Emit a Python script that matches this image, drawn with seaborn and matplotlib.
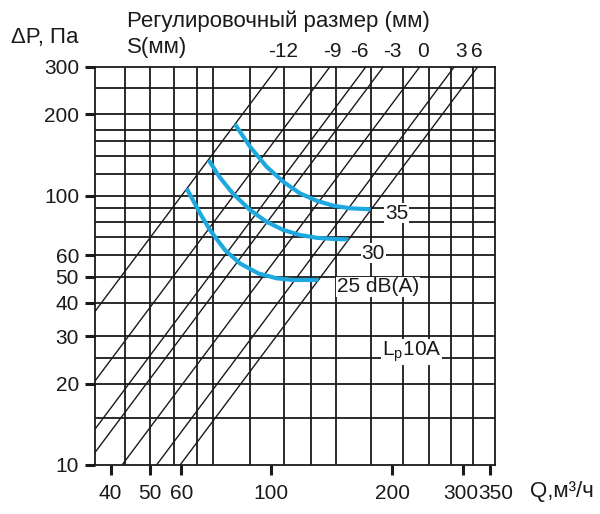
import numpy as np
import pandas as pd
import matplotlib
matplotlib.use("Agg")
import matplotlib.pyplot as plt
import matplotlib.transforms as mtransforms
import seaborn as sns

# ---- data ----
x_ticks = [40, 50, 60, 100, 200, 300, 350]
y_ticks = [10, 20, 30, 40, 50, 60, 100, 200, 300]
x_grid = [43.4, 50, 57.5, 65.5, 72, 88.9, 108, 126, 145, 177, 213, 247, 280, 318]
y_grid = [15, 20, 25, 30, 40, 50, 60, 70, 80, 90, 100, 120, 140, 160, 175, 200, 250]

# regulating size lines: flow at which each line reaches 300 Pa (P ~ Q^2)
s_labels = ["-12", "-9", "-6", "-3", "0", "3", "6"]
s_q_top = [104, 140, 172, 190, 234, 285, 326]
s_label_q = [107, 142, 166, 200, 238, 297, 325]

# noise curves (Q m3/h, dP Pa)
q_35 = [81.4, 88.8, 97.6, 107.4, 118.1, 129.9, 142.9, 157.2, 176.9]
p_35 = [184.2, 151.8, 127.9, 112.5, 101.9, 95.7, 91.7, 89.7, 88.9]
q_30 = [70.1, 74.5, 80.4, 88.8, 97.6, 107.4, 118.1, 129.9, 142.9, 155.6]
p_30 = [135.4, 117.4, 101.9, 88.4, 79.9, 74.5, 71.4, 69.7, 69.0, 68.8]
q_25 = [61.8, 66.7, 70.6, 76.9, 83.8, 93.1, 103.4, 113.6, 131.2]
p_25 = [106.3, 85.9, 74.5, 62.8, 56.0, 51.4, 49.3, 48.6, 48.6]
curve_labels = ["35", "30", "25 dB(A)"]
curve_label_q = [192, 168, 145.7]
curve_label_p = [86.1, 61.2, 45.8]

sns.set_theme(style="white")
plt.rcParams["font.family"] = ["Liberation Sans", "DejaVu Sans"]
plt.rcParams["mathtext.fontset"] = "custom"
plt.rcParams["mathtext.rm"] = "Liberation Sans"
plt.rcParams["mathtext.it"] = "Liberation Sans"

FS = 15
FS_T = 16
INK = "#1a1a1a"
BLUE = "#1ea8e0"
fig = plt.figure(figsize=(6, 5.14), dpi=100)
ax = fig.add_axes([95 / 600, 49 / 514, 400 / 600, 398 / 514])
ax.set_xscale("log")
ax.set_yscale("log")
ax.set_xlim(36.6, 360)
ax.set_ylim(10, 300)

# grid
for v in x_grid:
    ax.axvline(v, color=INK, lw=1.3, zorder=1)
for v in y_grid:
    ax.axhline(v, color=INK, lw=1.3, zorder=1)

# diagonal lines
rows = []
for lab, qt in zip(s_labels, s_q_top):
    q_lo = qt * np.sqrt(10 / 300)
    for q in [q_lo, qt]:
        rows.append({"line": lab, "Q": q, "P": 300 * (q / qt) ** 2})
diag = pd.DataFrame(rows)
sns.lineplot(data=diag, x="Q", y="P", units="line", estimator=None,
             color=INK, lw=1.0, ax=ax, zorder=2, legend=False)

for lab, ql in zip(s_labels, s_label_q):
    ax.text(ql, 1.040, lab, transform=ax.get_xaxis_transform(),
            ha="center", va="center", fontsize=FS, color=INK)

# noise curves
curves = pd.concat([
    pd.DataFrame({"Q": q_35, "P": p_35, "c": "35"}),
    pd.DataFrame({"Q": q_30, "P": p_30, "c": "30"}),
    pd.DataFrame({"Q": q_25, "P": p_25, "c": "25"}),
])
sns.lineplot(data=curves, x="Q", y="P", units="c", estimator=None, sort=False,
             color=BLUE, lw=3.0, ax=ax, zorder=4, legend=False,
             solid_capstyle="butt")

for lab, q, p in zip(curve_labels, curve_label_q, curve_label_p):
    ax.text(q, p, lab, ha="left", va="center", fontsize=FS, color=INK,
            bbox=dict(facecolor="white", edgecolor="none", pad=0.5), zorder=5)
ax.text(188.5, 26.3, r"L$_{\rm p}$10A", ha="left", va="center", fontsize=FS,
        color=INK, bbox=dict(facecolor="white", edgecolor="none", pad=0.5),
        zorder=5)

# axes and ticks
ax.xaxis.set_minor_locator(matplotlib.ticker.NullLocator())
ax.yaxis.set_minor_locator(matplotlib.ticker.NullLocator())
ax.set_xticks(x_ticks)
ax.set_xticklabels([str(v) for v in x_ticks])
ax.set_yticks(y_ticks)
ax.set_yticklabels([str(v) for v in y_ticks])
ax.tick_params(axis="both", which="major", direction="out", length=7.5,
               width=2.2, color=INK, labelsize=FS, labelcolor=INK,
               bottom=True, left=True)
ax.tick_params(axis="x", pad=6)
ax.tick_params(axis="y", pad=4)
ax.set_xlabel("")
ax.set_ylabel("")
for s in ax.spines.values():
    s.set_visible(True)
    s.set_color(INK)
    s.set_linewidth(1.3)

# nudge crowded right-hand tick labels apart
for lbl in ax.get_xticklabels():
    if lbl.get_text() == "350":
        lbl.set_transform(lbl.get_transform() +
                          mtransforms.ScaledTranslation(0.06, 0, fig.dpi_scale_trans))
    elif lbl.get_text() == "300":
        lbl.set_transform(lbl.get_transform() +
                          mtransforms.ScaledTranslation(-0.025, 0, fig.dpi_scale_trans))

fig.text(127 / 600, 1 - 21.5 / 514, "Регулировочный размер (мм)", ha="left",
         va="center", fontsize=FS_T, color=INK)
fig.text(127 / 600, 1 - 48 / 514, "S(мм)", ha="left", va="center",
         fontsize=FS_T, color=INK)
fig.text(11 / 600, 1 - 37.5 / 514, "ΔP, Па", ha="left", va="center",
         fontsize=FS_T, color=INK)
fig.text(530 / 600, 1 - 491.7 / 514, "Q,м³/ч", ha="left", va="center",
         fontsize=FS_T, color=INK)

fig.savefig("out.png", dpi=100, facecolor="white")
